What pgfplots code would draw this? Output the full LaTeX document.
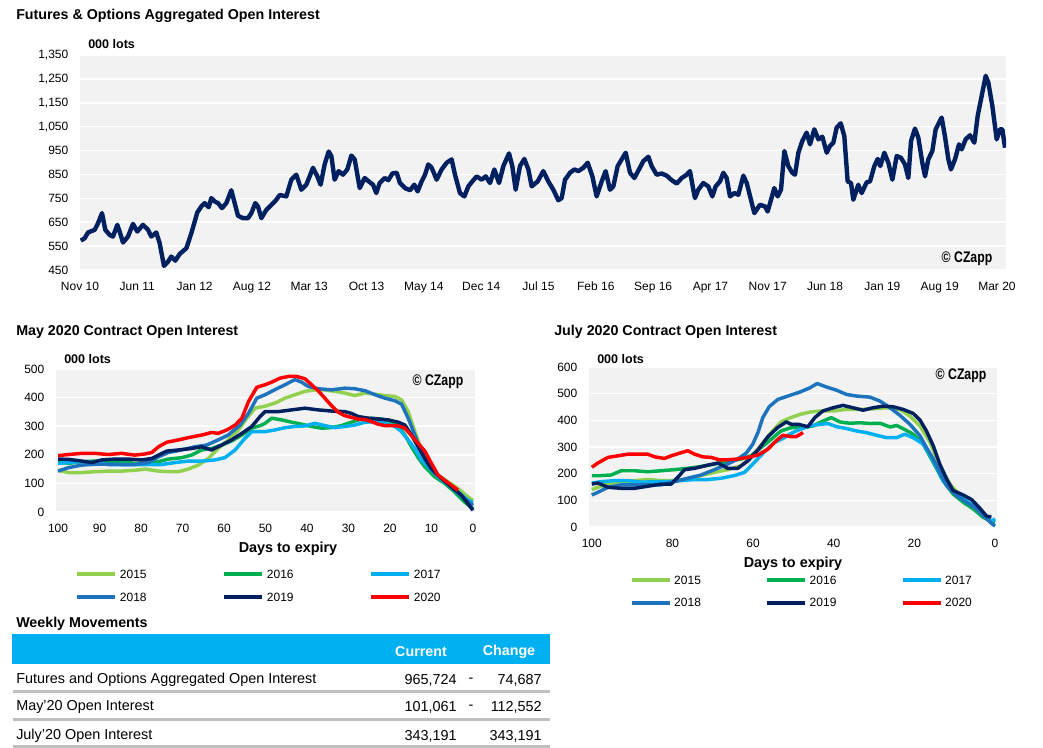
\documentclass[border=0pt]{standalone}
\usepackage{fontspec}
\setmainfont{Liberation Sans}
\usepackage{pgfplots}
\pgfplotsset{compat=1.18}

\definecolor{navy}{RGB}{0,32,96}
\definecolor{lgreen}{RGB}{146,208,80}
\definecolor{mgreen}{RGB}{0,176,80}
\definecolor{lblue}{RGB}{0,176,240}
\definecolor{mblue}{RGB}{30,115,190}
\definecolor{bggray}{RGB}{242,242,242}
\definecolor{sepgray}{RGB}{191,191,191}

\pgfplotsset{
  czbase/.style={
    scale only axis,
    axis background/.style={fill=bggray},
    axis line style={draw=none},
    major tick length=0pt,
    ymajorgrids,
    major grid style={white, line width=1.1pt},
    tick label style={font=\fontsize{9}{10}\selectfont},
    /pgf/number format/assume math mode=true,
    /pgf/number format/1000 sep={,},
    scaled y ticks=false,
    yticklabel style={xshift=-5.25pt},
    xticklabel style={yshift=-5pt, text height=6.6pt, text depth=1.9pt},
  },
  czlegend/.style 2 args={
    legend columns=3,
    legend cell align=left,
    legend image code/.code={\draw[##1, line width=3pt] (0pt,0pt) -- (28.5pt,0pt);},
    legend style={at={(#1)}, anchor=west, draw=none, fill=none,
      inner sep=0pt, row sep=10.3pt, font=\fontsize{9}{10}\selectfont,
      nodes={inner sep=0pt, text height=6.5pt, text depth=0pt},
      /tikz/every odd column/.append style={column sep=2pt},
      /tikz/every even column/.append style={column sep=#2}},
  },
}
\newcommand{\czapp}{\scalebox{0.8}[1]{\bfseries\fontsize{11.5}{12}\selectfont \textcopyright\ CZapp}}
\tikzset{
  ttl/.style={anchor=west, inner sep=0pt, font=\bfseries\fontsize{10.7}{12}\selectfont},
  lots/.style={anchor=west, inner sep=0pt, font=\bfseries\fontsize{9.4}{11}\selectfont},
  dte/.style={font=\bfseries\fontsize{10.8}{12}\selectfont},
}

\begin{document}
\begin{tikzpicture}
\useasboundingbox (0,0) rectangle (782.25pt,-561pt);

% ---------------- top chart ----------------
\node[ttl] at (12pt,-12pt) {Futures \& Options Aggregated Open Interest};
\node[lots] at (66pt,-33pt) {000 lots};

\begin{axis}[czbase,
  at={(60pt,-202.5pt)}, anchor=south west,
  width=694.5pt, height=161.25pt,
  xmin=0, xmax=113.1, ymin=450, ymax=1350,
  ytick={450,550,...,1350},
  xtick={0,7,...,112},
  xticklabels={Nov 10,Jun 11,Jan 12,Aug 12,Mar 13,Oct 13,May 14,Dec 14,Jul 15,Feb 16,Sep 16,Apr 17,Nov 17,Jun 18,Jan 19,Aug 19,Mar 20},
]
% months since Nov 2010, thousand lots
\addplot[navy, line width=3.3pt, line join=round] coordinates {
(0.1,573) (0.57,583) (0.98,607) (1.79,618) (2.20,646) (2.69,688) (3.09,618) (3.62,597) (4.03,590) (4.56,639)
(4.84,611) (5.25,565) (5.86,590) (6.47,643) (7.00,611) (7.69,639) (8.31,618) (8.71,590) (9.32,607) (9.73,562)
(10.26,467) (10.75,485) (11.15,506) (11.64,489) (12.17,517) (12.99,541) (13.60,604) (14.33,691) (14.82,716) (15.23,730)
(15.72,713) (16.04,751) (16.45,737) (16.86,730) (17.34,709) (17.87,730) (18.48,784) (18.89,730) (19.30,677) (19.91,667)
(20.52,667) (20.93,688) (21.41,730) (21.74,716) (22.15,667) (22.76,702) (23.37,722) (23.98,744) (24.39,764) (25.20,758)
(25.81,828) (26.42,849) (27.03,786) (27.64,807) (28.05,842) (28.46,878) (28.99,842) (29.39,807) (29.88,892) (30.37,946)
(30.70,927) (31.10,828) (31.59,864) (32.12,849) (32.65,871) (33.14,929) (33.55,913) (34.16,793) (34.77,835) (35.26,821)
(35.79,807) (36.19,772) (36.60,814) (37.21,835) (37.66,826) (38.15,854) (38.68,857) (39.08,814) (39.69,793) (40.31,784)
(40.83,807) (41.24,779) (41.73,821) (42.14,849) (42.54,892) (42.95,878) (43.56,828) (44.17,871) (44.78,899) (45.39,913)
(45.80,849) (46.41,772) (46.94,758) (47.43,800) (48.04,826) (48.45,842) (49.06,828) (49.55,842) (50.08,814) (50.61,871)
(51.18,814) (51.71,885) (52.40,938) (52.80,885) (53.21,786) (53.74,885) (54.27,915) (54.76,871) (55.17,800) (55.90,821)
(56.59,864) (57.20,821) (57.81,786) (58.42,742) (58.83,751) (59.24,828) (59.85,857) (60.38,871) (60.87,864) (61.48,878)
(62.01,899) (62.58,842) (63.10,758) (63.72,821) (64.20,864) (64.73,786) (65.14,800) (65.67,885) (66.16,913) (66.65,941)
(67.18,857) (67.71,835) (68.27,871) (68.81,906) (69.42,924) (69.82,885) (70.43,849) (71.04,854) (71.65,845) (72.27,826)
(72.88,812) (73.49,835) (74.10,849) (74.50,864) (74.91,786) (75.11,751) (75.52,786) (76.13,814) (76.74,800) (77.23,758)
(77.64,800) (78.17,821) (78.58,857) (78.98,835) (79.39,758) (79.92,772) (80.41,765) (81.02,845) (81.43,814) (81.95,744)
(82.36,688) (83.05,723) (83.66,716) (83.99,695) (84.40,744) (84.80,793) (85.21,758) (85.62,786) (86.03,948) (86.51,885)
(87.00,857) (87.33,849) (87.74,941) (88.22,990) (88.75,1025) (89.16,976) (89.69,1039) (90.18,997) (90.67,1008) (91.20,941)
(91.60,969) (92.01,983) (92.42,1046) (92.91,1064) (93.35,1011) (93.76,821) (94.17,814) (94.45,744) (95.06,807) (95.47,772)
(96.08,817) (96.49,821) (97.02,885) (97.43,915) (97.75,885) (98.24,941) (98.73,899) (99.22,828) (99.75,927) (100.27,920)
(100.76,892) (101.17,835) (101.50,990) (101.98,1042) (102.39,1004) (102.88,899) (103.21,842) (103.61,913) (104.10,948) (104.51,1039)
(105.24,1088) (105.65,1008) (106.06,913) (106.38,871) (106.87,913) (107.36,976) (107.69,955) (108.17,997) (108.70,1014) (109.23,983)
(109.64,1095) (110.13,1179) (110.62,1263) (110.94,1235) (111.43,1137) (111.96,997) (112.37,1039) (112.65,1039) (112.98,962)
};
\end{axis}
\node at (725.25pt,-194.25pt) {\czapp};

% ---------------- May 2020 contract ----------------
\node[ttl] at (12pt,-249pt) {May 2020 Contract Open Interest};
\node[lots] at (48pt,-269.25pt) {000 lots};

\begin{axis}[czbase, czlegend={0.0453,-0.514}{56.75pt},
  at={(42pt,-384pt)}, anchor=south west,
  width=314.25pt, height=107.25pt,
  x dir=reverse, xmin=-0.5, xmax=100.5, ymin=0, ymax=500,
  xtick={0,10,...,100}, ytick={0,100,...,500},
]
\addplot[lgreen, line width=2.6pt, line join=round] coordinates {
(100,146) (97.5,138) (94.3,138) (91.1,141) (87.9,143) (84.7,143) (81.5,146) (79,150) (75.8,143) (73.4,141)
(71,141) (68.6,150) (66.2,164) (63.8,187) (61.4,222) (59,252) (56.5,287) (54.5,328) (52.5,363) (50.1,370)
(47.7,381) (45.3,398) (42.9,410) (40.5,422) (38.1,427) (35.7,427) (33.3,422) (30.9,416) (28.5,407) (26,416)
(23.6,412) (21.2,407) (18.8,404) (17.2,392) (15.6,351) (14,281) (12.4,217) (10.8,164) (8.4,129) (6,105)
(3.6,82) (1.2,53) (0,40)
};
\addlegendentry{2015}
\addplot[mgreen, line width=2.6pt, line join=round] coordinates {
(100,176) (97.5,170) (94.3,176) (91.1,178) (87.9,176) (84.7,176) (81.5,170) (78.2,170) (75.8,176) (73.4,185)
(70.2,190) (67.8,199) (65.4,217) (63,222) (60.6,234) (58.2,248) (55.7,269) (53.3,293) (50.9,304) (50.1,310)
(48.5,328) (46.1,322) (43.7,314) (41.3,307) (38.9,299) (36.5,293) (34.1,295) (31.7,302) (29.3,314) (26.9,325)
(24.4,328) (22,325) (19.6,316) (18,302) (16.4,269) (14.8,228) (13.2,190) (11.6,158) (9.2,123) (6.8,100)
(4.4,70) (2,35) (0,12)
};
\addlegendentry{2016}
\addplot[lblue, line width=2.6pt, line join=round] coordinates {
(100,170) (97.5,173) (94.3,176) (91.1,173) (87.9,166) (84.7,166) (81.5,166) (78.2,166) (75,166) (71.8,173)
(68.6,178) (65.4,178) (62.2,182) (59.8,190) (57.3,217) (55.3,252) (53.3,281) (50.1,281) (47.7,287) (45.3,295)
(42.9,299) (40.5,301) (38.1,310) (35.7,302) (33.3,295) (30.9,299) (28.5,304) (26,314) (23.6,316) (21.2,310)
(18.8,299) (17.2,281) (15.6,252) (14,222) (12.4,182) (10.8,158) (8.4,123) (6,96) (3.6,70) (1.2,41) (0,33)
};
\addlegendentry{2017}
\addplot[mblue, line width=2.6pt, line join=round] coordinates {
(100,143) (97.5,155) (94.3,164) (91.1,167) (87.9,167) (84.7,166) (81.5,166) (78.2,173) (75.8,193) (73.4,208)
(70.2,217) (67,228) (64.2,234) (61.4,252) (59,269) (56.1,304) (54.1,345) (52.1,398) (50.1,410) (47.7,428)
(45.3,445) (42.9,463) (41.3,454) (39.7,439) (37.3,431) (34.1,427) (30.9,433) (28.5,431) (26,424) (23.6,410)
(21.2,398) (18.8,389) (17.2,377) (15.6,328) (14,269) (12.4,211) (10.8,164) (9.2,135) (6.8,111) (4.4,76)
(2,47) (0,23)
};
\addlegendentry{2018}
\addplot[navy, line width=2.6pt, line join=round] coordinates {
(100,185) (97.5,184) (94.3,178) (91.9,173) (89.5,182) (86.3,185) (83.1,185) (79.8,182) (77.4,187) (75.8,199)
(73.8,213) (71,217) (67.8,222) (65.4,228) (63,217) (60.6,234) (58.2,252) (55.7,275) (53.3,299) (51.3,334)
(50.1,351) (46.9,351) (43.7,357) (40.5,363) (37.3,357) (34.1,353) (30.9,351) (29.3,345) (27.7,334) (25.2,328)
(22.8,325) (20.4,322) (18,314) (16.4,304) (14.8,269) (13.2,228) (11.6,187) (10,152) (7.6,117) (5.2,88)
(2.8,59) (1.2,29) (0,6)
};
\addlegendentry{2019}
\addplot[red, line width=2.6pt, line join=round] coordinates {
(100,197) (97.5,201) (94.3,205) (91.1,205) (87.9,201) (84.7,205) (81.5,199) (79,203) (77.4,208) (75.8,228)
(73.8,244) (71,252) (68.6,260) (65.4,269) (63,278) (61.4,275) (59.3,287) (57.3,304) (55.7,328) (54.1,386)
(52.1,436) (50.1,445) (48.5,454) (46.5,468) (44.5,474) (42.5,474) (40.5,466) (38.9,445) (37.3,424) (35.7,398)
(34.1,372) (32.5,349) (30.9,337) (29.3,331) (27.7,325) (26,323) (24.4,316) (22.8,307) (21.2,302) (19.6,302)
(18,301) (16.4,293) (14.8,267) (13.2,240) (11.6,213) (10,170) (8.4,129) (6.8,111) (5.2,94) (3.6,76)
};
\addlegendentry{2020}
\end{axis}
\node at (328.5pt,-286.5pt) {\czapp};
\node[dte] at (216pt,-411.75pt) {Days to expiry};

% ---------------- July 2020 contract ----------------
\node[ttl] at (415.5pt,-249pt) {July 2020 Contract Open Interest};
\node[lots] at (447.75pt,-269.25pt) {000 lots};

\begin{axis}[czbase, czlegend={0.0988,-0.402}{48.1pt},
  at={(441.75pt,-395.25pt)}, anchor=south west,
  width=306pt, height=120pt,
  x dir=reverse, xmin=-0.5, xmax=100.7, ymin=0, ymax=600,
  xtick={0,20,...,100}, ytick={0,100,...,600},
]
\addplot[lgreen, line width=2.6pt, line join=round] coordinates {
(100,140) (98.5,149) (96,161) (92.7,170) (89.4,174) (86.1,178) (82.8,174) (79.5,174) (76.2,180) (72.9,193)
(69.6,205) (66.3,215) (63,230) (60.5,261) (58,307) (55.5,354) (53.1,394) (50.7,410) (48.4,422) (45.9,431)
(43.4,435) (40.2,435) (36.8,441) (33.5,441) (30.3,443) (26.9,447) (23.6,441) (21.1,416) (18.6,379) (16.1,317)
(13.7,230) (11.2,161) (8.7,118) (6.2,87) (3.8,56) (1.3,25) (0,21)
};
\addlegendentry{2015}
\addplot[mgreen, line width=2.6pt, line join=round] coordinates {
(100,193) (97.7,193) (95.2,195) (92.7,211) (89.4,211) (86.1,207) (82.8,211) (79.5,215) (76.2,220) (72.9,227)
(69.6,236) (66.3,245) (63,255) (60.5,267) (58,298) (55.5,329) (53.1,360) (50.7,372) (47.6,373) (45.1,379)
(42.7,397) (40.6,410) (38.5,394) (36,389) (33.5,391) (31,388) (28.5,389) (26,375) (24.4,381) (22.8,369)
(20.3,348) (17.8,311) (15.3,242) (12.9,174) (10.4,124) (7.9,93) (5.4,68) (3,37) (0.9,21) (0,19)
};
\addlegendentry{2016}
\addplot[lblue, line width=2.6pt, line join=round] coordinates {
(100,165) (97.7,170) (94.3,174) (91.1,174) (87.8,168) (84.5,170) (81.2,170) (77.9,174) (74.5,178) (71.2,178)
(67.9,183) (64.6,193) (62.1,205) (59.7,242) (57.2,282) (54.7,317) (52.6,332) (50.7,350) (48.4,366) (45.9,379)
(43.4,385) (41.4,388) (39.3,376) (36.8,369) (34.3,360) (31.9,354) (29.4,344) (26.9,335) (24.4,335) (22.4,348)
(20.3,335) (17.8,311) (15.3,248) (12.9,174) (10.4,137) (7.9,106) (5.4,81) (3,50) (0.9,19) (0,31)
};
\addlegendentry{2017}
\addplot[mblue, line width=2.6pt, line join=round] coordinates {
(100,120) (98.5,130) (96,149) (92.7,158) (89.4,158) (86.1,158) (82.8,158) (79.5,170) (76.2,183) (72.9,195)
(69.6,215) (66.3,236) (63.8,255) (61.7,277) (60.1,310) (58.8,354) (57.6,410) (56,451) (53.9,478) (51.4,491)
(48.4,506) (45.9,522) (44.1,538) (41.8,525) (39.3,513) (36.8,497) (34.3,491) (31,487) (28.5,472) (26,447)
(23.6,419) (21.1,385) (18.6,342) (17,298) (15.3,255) (13.7,205) (12,155) (9.6,118) (7.1,93) (4.6,68)
(2.1,31) (0.5,9) (0,4)
};
\addlegendentry{2018}
\addplot[navy, line width=2.6pt, line join=round] coordinates {
(100,161) (98.5,165) (96,149) (92.7,145) (89.4,145) (86.1,153) (82.8,161) (80.3,161) (78.7,186) (77,215)
(74.5,220) (71.2,232) (68.7,240) (66.3,220) (63.8,220) (61.3,248) (58.8,289) (56.3,339) (53.9,373) (51.8,394)
(50.5,385) (48.8,385) (46.4,376) (44.7,410) (42.7,435) (40.2,447) (37.7,456) (35.2,447) (32.7,438) (30.3,447)
(27.8,453) (25.3,451) (22.8,441) (20.3,426) (18.6,401) (17,360) (15.3,304) (13.7,236) (12,180) (10.4,137)
(7.9,120) (5.8,103) (3.8,71) (2.1,41) (0.9,37)
};
\addlegendentry{2019}
\addplot[red, line width=2.6pt, line join=round] coordinates {
(100,224) (98.5,240) (96,261) (93.5,267) (91.1,273) (88.6,273) (86.1,273) (84.4,263) (82,257) (80.3,267)
(78.2,277) (76.2,286) (74.5,273) (72.5,263) (70.4,261) (68.3,252) (66.3,252) (63.8,255) (61.3,261) (58.8,270)
(56.3,292) (54.3,323) (52.6,344) (50.7,339) (49.3,339) (47.6,354)
};
\addlegendentry{2020}
\end{axis}
\node at (720.75pt,-282pt) {\czapp};
\node[dte] at (594.75pt,-423pt) {Days to expiry};

% ---------------- weekly movements table ----------------
\node[ttl] at (12pt,-467.7pt) {Weekly Movements};
\fill[lblue] (9pt,-475.5pt) rectangle (412.5pt,-497.7pt);
\begin{scope}[font=\bfseries\fontsize{10.7}{12}\selectfont, text=white]
\node at (315.75pt,-489pt) {Current};
\node at (381.75pt,-489pt) {Change};
\end{scope}
\begin{scope}[font=\fontsize{10.8}{12}\selectfont, every node/.append style={inner sep=0pt}]
\node[anchor=west] at (12pt,-510pt) {Futures and Options Aggregated Open Interest};
\node[anchor=east] at (342.75pt,-510pt) {965,724};
\node at (353.25pt,-510pt) {-};
\node[anchor=east] at (406.5pt,-510pt) {74,687};
\node[anchor=west] at (12pt,-530.25pt) {May'20 Open Interest};
\node[anchor=east] at (342.75pt,-530.25pt) {101,061};
\node at (353.25pt,-530.25pt) {-};
\node[anchor=east] at (406.5pt,-530.25pt) {112,552};
\node[anchor=west] at (12pt,-552pt) {July'20 Open Interest};
\node[anchor=east] at (342.75pt,-552pt) {343,191};
\node[anchor=east] at (406.5pt,-552pt) {343,191};
\end{scope}
\draw[sepgray, line width=2.25pt] (9.75pt,-518.5pt) -- (412.5pt,-518.5pt);
\draw[sepgray, line width=2.25pt] (9.75pt,-539.25pt) -- (412.5pt,-539.25pt);
\draw[sepgray, line width=2.25pt] (9.75pt,-559.9pt) -- (412.5pt,-559.9pt);
\end{tikzpicture}
\end{document}
